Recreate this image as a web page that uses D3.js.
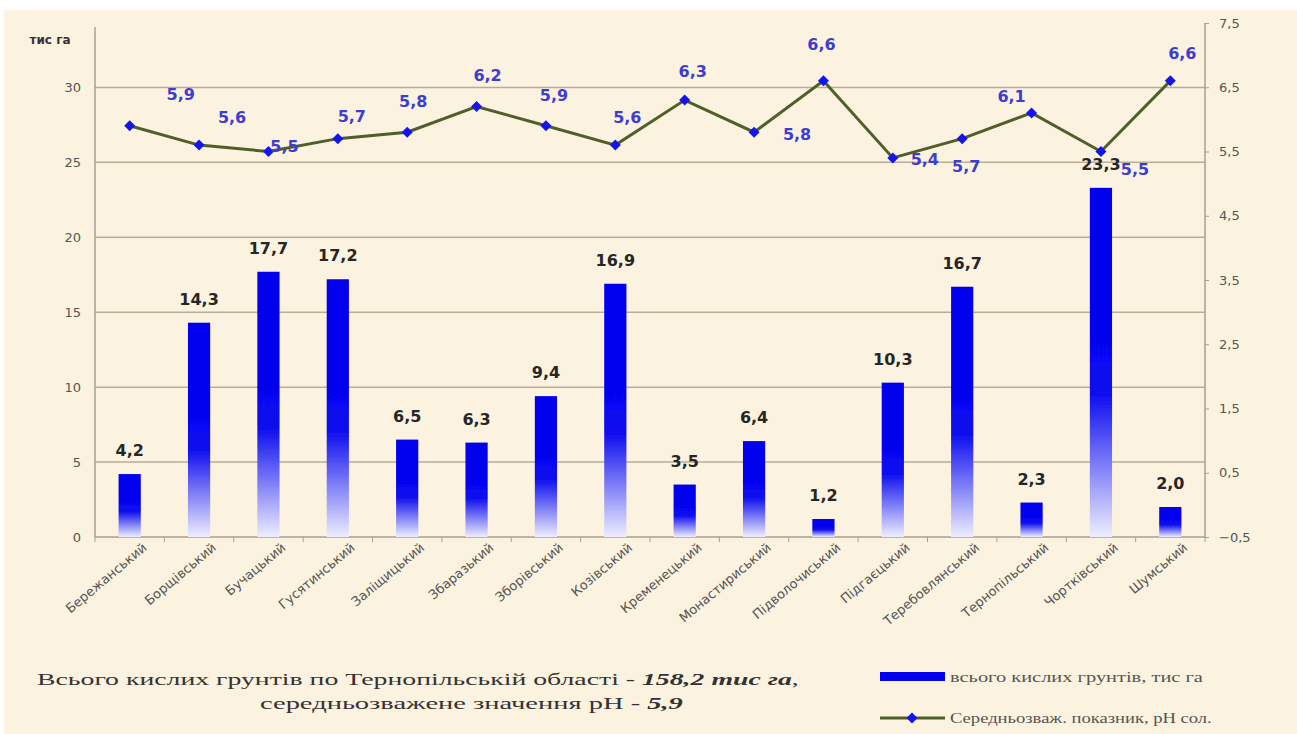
<!DOCTYPE html>
<html>
<head>
<meta charset="utf-8">
<script src="https://cdn.jsdelivr.net/npm/d3@7"></script>
<style>
  body { margin: 0; background: #ffffff; }
  svg { display: block; }
</style>
</head>
<body>
<svg id="chart" width="1297" height="734"></svg>
<script>
// райони Тернопільської області
const districts = ["Бережанський", "Борщівський", "Бучацький", "Гусятинський", "Заліщицький",
  "Збаразький", "Зборівський", "Козівський", "Кременецький", "Монастириський",
  "Підволочиський", "Підгаєцький", "Теребовлянський", "Тернопільський", "Чортківський", "Шумський"];
// всього кислих грунтів, тис га
const acidArea = [4.2, 14.3, 17.7, 17.2, 6.5, 6.3, 9.4, 16.9, 3.5, 6.4, 1.2, 10.3, 16.7, 2.3, 23.3, 2.0];
// середньозважений показник pH сол.
const phValues = [5.9, 5.6, 5.5, 5.7, 5.8, 6.2, 5.9, 5.6, 6.3, 5.8, 6.6, 5.4, 5.7, 6.1, 5.5, 6.6];
const leftTicks = [0, 5, 10, 15, 20, 25, 30];
const rightTicks = [-0.5, 0.5, 1.5, 2.5, 3.5, 4.5, 5.5, 6.5, 7.5];

// positions of the pH labels around each marker (as placed in the original chart)
const phLabelOffset = [[51, -31], [33, -28], [16, -5], [14, -22], [6, -31], [11, -31], [8, -30], [12, -28],
  [8, -29], [43, 2], [-2, -36], [32, 2], [4, 28], [-20, -16], [34, 18], [12, -27]];

const fmt = v => d3.format(".1f")(v).replace(".", ",");

const svg = d3.select("#chart");
const plotL = 95, plotR = 1205, plotT = 23, plotB = 537;

// background
svg.append("rect").attr("x", 4).attr("y", 10).attr("width", 1293).attr("height", 724).attr("fill", "#fbf2df");

const defs = svg.append("defs");
const grad = defs.append("linearGradient").attr("id", "barGrad")
  .attr("x1", 0).attr("y1", 0).attr("x2", 0).attr("y2", 1);
grad.append("stop").attr("offset", "0%").attr("stop-color", "#0000ee");
grad.append("stop").attr("offset", "58%").attr("stop-color", "#0808ee");
grad.append("stop").attr("offset", "100%").attr("stop-color", "#eeeeff");
defs.append("filter").attr("id", "soft").append("feGaussianBlur").attr("stdDeviation", 0.7);

const x = d3.scaleBand().domain(districts).range([plotL, plotR]).paddingInner(0.68).paddingOuter(0.34);
const yL = d3.scaleLinear().domain([0, 34.3]).range([plotB, plotT]);
const yR = d3.scaleLinear().domain([-0.5, 7.5]).range([plotB, plotT]);
const cx = i => x(districts[i]) + x.bandwidth() / 2;

// gridlines
svg.append("g").selectAll("line").data(leftTicks.filter(d => d > 0)).join("line")
  .attr("x1", plotL).attr("x2", plotR)
  .attr("y1", d => yL(d)).attr("y2", d => yL(d))
  .attr("stroke", "#b9ad98").attr("stroke-width", 1.5);

// left axis
const axL = svg.append("g").attr("transform", `translate(${plotL},0)`)
  .call(d3.axisLeft(yL).tickValues(leftTicks).tickSize(0).tickPadding(14).tickFormat(d3.format("d")));
axL.select(".domain").attr("d", `M0,27V${plotB}`).attr("stroke", "#a89f90").attr("stroke-width", 1.5);
axL.selectAll("text").attr("font-family", "DejaVu Sans").attr("font-size", 13).attr("fill", "#555");

// right axis
const axR = svg.append("g").attr("transform", `translate(${plotR},0)`)
  .call(d3.axisRight(yR).tickValues(rightTicks).tickSize(4).tickPadding(10).tickFormat(fmt));
axR.select(".domain").attr("d", `M0,${plotT}V${plotB}`).attr("stroke", "#a89f90").attr("stroke-width", 1.5);
axR.selectAll(".tick line").attr("stroke", "#a89f90");
axR.selectAll("text").attr("font-family", "DejaVu Sans").attr("font-size", 13).attr("fill", "#555");

// x axis
const axX = svg.append("g").attr("transform", `translate(0,${plotB})`)
  .call(d3.axisBottom(x).tickSize(0).tickPadding(0).tickFormat(""));
axX.select(".domain").attr("d", `M${plotL},0H${plotR}`).attr("stroke", "#a89f90").attr("stroke-width", 1.5);
svg.append("g").selectAll("line").data(d3.range(districts.length + 1)).join("line")
  .attr("x1", i => plotL + i * x.step()).attr("x2", i => plotL + i * x.step())
  .attr("y1", plotB).attr("y2", plotB + 5).attr("stroke", "#a89f90");

svg.append("g").selectAll("text").data(districts).join("text")
  .attr("transform", (d, i) => `translate(${cx(i) + 18},${plotB + 12}) rotate(-40)`)
  .attr("text-anchor", "end")
  .attr("font-family", "DejaVu Sans").attr("font-size", 13).attr("fill", "#555")
  .text(d => d);

svg.append("text").attr("x", 50).attr("y", 44).attr("text-anchor", "middle")
  .attr("font-family", "DejaVu Sans").attr("font-weight", "bold").attr("font-size", 12).attr("fill", "#333")
  .text("тис га");

// bars
svg.append("g").attr("filter", "url(#soft)").selectAll("rect").data(acidArea).join("rect")
  .attr("x", (d, i) => x(districts[i]))
  .attr("y", d => yL(d))
  .attr("width", x.bandwidth())
  .attr("height", d => yL(0) - yL(d))
  .attr("fill", "url(#barGrad)");

svg.append("g").selectAll("text").data(acidArea).join("text")
  .attr("x", (d, i) => cx(i))
  .attr("y", d => yL(d) - 18)
  .attr("text-anchor", "middle")
  .attr("font-family", "DejaVu Sans").attr("font-weight", "bold").attr("font-size", 16).attr("fill", "#262626")
  .text(fmt);

// pH line
const line = d3.line().x((d, i) => cx(i)).y(d => yR(d));
svg.append("path").datum(phValues).attr("d", line)
  .attr("fill", "none").attr("stroke", "#4f5f2a").attr("stroke-width", 3);

// ромбики: квадрат, повернутий на 45°
const marker = d3.symbol().type(d3.symbolSquare).size(60);
svg.append("g").selectAll("path").data(phValues).join("path")
  .attr("transform", (d, i) => `translate(${cx(i)},${yR(d)}) rotate(45)`)
  .attr("d", marker).attr("fill", "#1414f0");

svg.append("g").selectAll("text").data(phValues).join("text")
  .attr("x", (d, i) => cx(i) + phLabelOffset[i][0])
  .attr("y", (d, i) => yR(d) + phLabelOffset[i][1])
  .attr("text-anchor", "middle").attr("dominant-baseline", "central")
  .attr("font-family", "DejaVu Sans").attr("font-weight", "bold").attr("font-size", 16).attr("fill", "#3d3dd4")
  .text(fmt);

// stretch a text horizontally to the given width (the original picture is widened)
function stretch(sel, x0, y0, width) {
  const w = sel.node().getComputedTextLength();
  sel.attr("transform", `translate(${x0},${y0}) scale(${width / w},1)`);
}

// підпис знизу
const note1 = svg.append("text")
  .attr("font-family", "Liberation Serif").attr("font-size", 17).attr("fill", "#333");
note1.append("tspan").text("Всього кислих грунтів по Тернопільській області - ");
note1.append("tspan").attr("font-weight", "bold").attr("font-style", "italic").text("158,2 тис га");
note1.append("tspan").text(",");
stretch(note1, 37, 685, 762);

const note2 = svg.append("text")
  .attr("font-family", "Liberation Serif").attr("font-size", 17).attr("fill", "#333");
note2.append("tspan").text("середньозважене значення рН - ");
note2.append("tspan").attr("font-weight", "bold").attr("font-style", "italic").text("5,9");
stretch(note2, 260, 709, 423);

// legend
const lg = svg.append("g");
lg.append("rect").attr("x", 880).attr("y", 672).attr("width", 65).attr("height", 9)
  .attr("fill", "#0000ee").attr("filter", "url(#soft)");
const lt1 = lg.append("text")
  .attr("font-family", "Liberation Serif").attr("font-size", 14).attr("fill", "#555")
  .text("всього кислих грунтів, тис га");
stretch(lt1, 950, 682, 253);
lg.append("line").attr("x1", 880).attr("x2", 945).attr("y1", 718).attr("y2", 718)
  .attr("stroke", "#4f5f2a").attr("stroke-width", 3);
lg.append("path").attr("transform", "translate(912,718) rotate(45)").attr("d", marker).attr("fill", "#1414f0");
const lt2 = lg.append("text")
  .attr("font-family", "Liberation Serif").attr("font-size", 14).attr("fill", "#555")
  .text("Середньозваж. показник, рН сол.");
stretch(lt2, 950, 723, 262);
</script>
</body>
</html>
